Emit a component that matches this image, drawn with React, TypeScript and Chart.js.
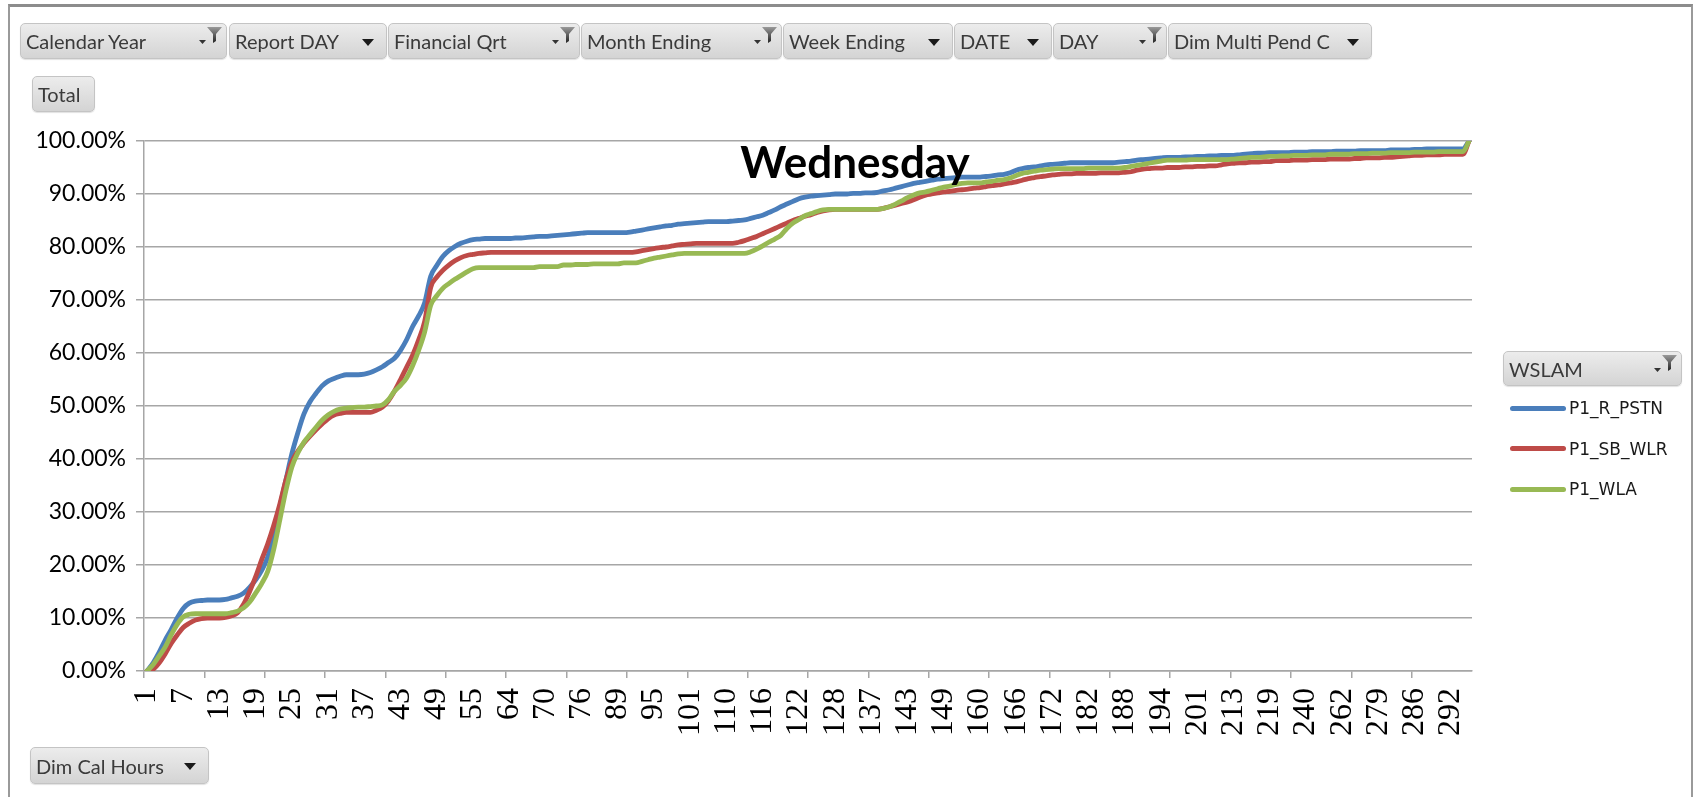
import React, { useEffect, useRef } from 'react';
import { Chart, registerables } from 'chart.js';

Chart.register(...registerables);

// ---------- data ----------
const hours = [
  1, 2, 3, 4, 5, 6, 7,
  8, 9, 10, 11, 12, 13,
  14, 15, 16, 17, 18, 19,
  20, 21, 22, 23, 24, 25,
  26, 27, 28, 29, 30, 31,
  32, 33, 34, 35, 36, 37,
  38, 39, 40, 41, 42, 43,
  44, 45, 46, 47, 48, 49,
  50, 51, 52, 53, 54, 55,
  56, 57, 59, 61, 62, 64,
  65, 66, 67, 68, 69, 70,
  71, 72, 73, 74, 75, 76,
  78, 80, 82, 84, 87, 89,
  90, 91, 92, 93, 94, 95,
  96, 97, 98, 99, 100, 101,
  102, 104, 105, 107, 108, 110,
  111, 112, 113, 114, 115, 116,
  117, 118, 119, 120, 121, 122,
  123, 124, 125, 126, 127, 128,
  129, 131, 132, 134, 135, 137,
  138, 139, 140, 141, 142, 143,
  144, 145, 146, 147, 148, 149,
  151, 153, 155, 157, 158, 160,
  161, 162, 163, 164, 165, 166,
  167, 168, 169, 170, 171, 172,
  173, 175, 177, 179, 180, 182,
  183, 184, 185, 186, 187, 188,
  189, 190, 191, 192, 193, 194,
  195, 196, 197, 199, 200, 201,
  203, 205, 207, 209, 211, 213,
  214, 215, 216, 217, 218, 219,
  222, 225, 229, 232, 236, 240,
  244, 248, 251, 255, 258, 262,
  265, 268, 271, 274, 277, 279,
  280, 281, 282, 284, 285, 286,
  287, 288, 289, 290, 291, 292,
  293, 295, 298,
];

const p1RPstn = [
  0, 1.5, 3.5, 5.8, 7.8, 10.0, 11.8, 12.8, 13.2, 13.3,
  13.4, 13.4, 13.4, 13.5, 13.8, 14.1, 14.7, 15.8, 17.2, 19.0,
  21.5, 26.0, 31.0, 36.0, 41.0, 45.0, 48.5, 50.8, 52.4, 53.8,
  54.7, 55.2, 55.6, 55.9, 55.9, 55.9, 56.0, 56.3, 56.8, 57.4,
  58.2, 59.0, 60.5, 62.5, 65.0, 67.0, 69.5, 74.5, 76.5, 78.2,
  79.3, 80.1, 80.7, 81.1, 81.4, 81.5, 81.6, 81.6, 81.6, 81.6,
  81.6, 81.7, 81.7, 81.8, 81.9, 82.0, 82.0, 82.1, 82.2, 82.3,
  82.4, 82.5, 82.6, 82.7, 82.7, 82.7, 82.7, 82.7, 82.7, 82.7,
  82.8, 83.0, 83.2, 83.4, 83.6, 83.8, 84.0, 84.1, 84.3, 84.4,
  84.5, 84.6, 84.7, 84.8, 84.8, 84.8, 84.8, 84.9, 85.0, 85.1,
  85.4, 85.7, 86.0, 86.5, 87.0, 87.6, 88.1, 88.6, 89.1, 89.4,
  89.6, 89.7, 89.8, 89.9, 90.0, 90.0, 90.0, 90.1, 90.1, 90.2,
  90.2, 90.3, 90.6, 90.8, 91.1, 91.4, 91.7, 92.0, 92.2, 92.4,
  92.6, 92.8, 92.9, 93.0, 93.1, 93.2, 93.2, 93.2, 93.2, 93.3,
  93.4, 93.6, 93.7, 94.0, 94.5, 94.8, 95.0, 95.1, 95.3, 95.5,
  95.6, 95.7, 95.8, 95.9, 95.9, 95.9, 95.9, 95.9, 95.9, 95.9,
  95.9, 96.0, 96.1, 96.2, 96.4, 96.5, 96.6, 96.7, 96.8, 96.9,
  96.9, 96.9, 97.0, 97.0, 97.1, 97.1, 97.2, 97.2, 97.3, 97.3,
  97.3, 97.4, 97.5, 97.6, 97.7, 97.7, 97.8, 97.8, 97.8, 97.8,
  97.9, 97.9, 97.9, 98.0, 98.0, 98.0, 98.0, 98.1, 98.1, 98.1,
  98.1, 98.2, 98.2, 98.2, 98.2, 98.2, 98.3, 98.3, 98.3, 98.3,
  98.4, 98.4, 98.5, 98.5, 98.5, 98.5, 98.5, 98.5, 98.5, 100,
];

const p1SbWlr = [
  0, 0.3, 1.5, 3.2, 5.2, 6.8, 8.2, 9.0, 9.6, 9.9,
  10.0, 10.0, 10.0, 10.1, 10.4, 11.0, 12.6, 15.0, 17.8, 21.0,
  24.0, 27.5, 31.5, 36.0, 39.5, 41.5, 43.0, 44.3, 45.5, 46.6,
  47.6, 48.3, 48.6, 48.8, 48.8, 48.8, 48.8, 48.8, 49.2, 49.8,
  51.0, 52.8, 55.0, 57.3, 59.6, 62.5, 66.0, 72.4, 74.3, 75.6,
  76.6, 77.4, 78.0, 78.4, 78.6, 78.8, 78.9, 79.0, 79.0, 79.0,
  79.0, 79.0, 79.0, 79.0, 79.0, 79.0, 79.0, 79.0, 79.0, 79.0,
  79.0, 79.0, 79.0, 79.0, 79.0, 79.0, 79.0, 79.0, 79.0, 79.0,
  79.0, 79.1, 79.3, 79.5, 79.7, 79.9, 80.0, 80.2, 80.4, 80.5,
  80.6, 80.7, 80.7, 80.7, 80.7, 80.7, 80.7, 80.7, 80.9, 81.2,
  81.6, 82.0, 82.5, 83.0, 83.5, 84.0, 84.5, 85.0, 85.4, 85.8,
  86.1, 86.5, 86.8, 87.0, 87.1, 87.1, 87.1, 87.1, 87.1, 87.1,
  87.1, 87.1, 87.3, 87.6, 87.9, 88.2, 88.5, 88.9, 89.4, 89.8,
  90.0, 90.2, 90.4, 90.5, 90.7, 90.8, 90.9, 91.1, 91.2, 91.4,
  91.6, 91.7, 91.9, 92.1, 92.3, 92.6, 92.9, 93.1, 93.3, 93.4,
  93.6, 93.7, 93.8, 93.8, 93.9, 93.9, 93.9, 93.9, 94.0, 94.0,
  94.0, 94.0, 94.1, 94.2, 94.5, 94.7, 94.8, 94.9, 94.9, 95.0,
  95.0, 95.0, 95.1, 95.1, 95.2, 95.2, 95.3, 95.3, 95.5, 95.7,
  95.8, 95.9, 95.9, 96.0, 96.0, 96.1, 96.1, 96.3, 96.3, 96.3,
  96.4, 96.4, 96.4, 96.5, 96.5, 96.5, 96.6, 96.6, 96.6, 96.6,
  96.7, 96.7, 96.8, 96.8, 96.8, 96.9, 96.9, 97.0, 97.1, 97.2,
  97.3, 97.3, 97.4, 97.4, 97.4, 97.5, 97.5, 97.5, 97.5, 100,
];

const p1Wla = [
  0, 1.2, 2.8, 4.5, 6.8, 8.8, 10.2, 10.7, 10.8, 10.8,
  10.8, 10.8, 10.8, 10.8, 11.0, 11.3, 11.9, 13.0, 14.7, 16.5,
  18.8, 23.0, 28.5, 34.0, 38.5, 41.2, 43.2, 44.6, 46.0, 47.3,
  48.3, 49.0, 49.4, 49.6, 49.7, 49.8, 49.8, 49.9, 50.0, 50.2,
  51.2, 52.8, 53.9, 55.3, 57.6, 60.5, 64.0, 69.0, 70.8, 72.2,
  73.1, 73.9, 74.6, 75.3, 75.9, 76.1, 76.1, 76.1, 76.1, 76.1,
  76.1, 76.1, 76.1, 76.1, 76.1, 76.3, 76.3, 76.3, 76.3, 76.6,
  76.6, 76.7, 76.7, 76.7, 76.8, 76.8, 76.8, 76.8, 76.8, 77.0,
  77.0, 77.0, 77.3, 77.6, 77.9, 78.1, 78.3, 78.5, 78.7, 78.8,
  78.8, 78.8, 78.8, 78.8, 78.8, 78.8, 78.8, 78.8, 78.8, 78.8,
  79.1, 79.6, 80.2, 80.9, 81.5, 82.2, 83.5, 84.5, 85.2, 85.9,
  86.3, 86.7, 87.0, 87.1, 87.1, 87.1, 87.1, 87.1, 87.1, 87.1,
  87.1, 87.1, 87.3, 87.6, 88.1, 88.7, 89.3, 89.8, 90.2, 90.4,
  90.7, 91.0, 91.3, 91.5, 91.8, 92.0, 92.1, 92.1, 92.1, 92.3,
  92.4, 92.6, 92.7, 93.0, 93.5, 93.9, 94.1, 94.3, 94.5, 94.6,
  94.7, 94.8, 94.8, 94.8, 94.8, 94.8, 94.9, 94.9, 94.9, 94.9,
  94.9, 94.9, 95.0, 95.2, 95.4, 95.6, 95.8, 96.0, 96.2, 96.4,
  96.4, 96.4, 96.4, 96.5, 96.5, 96.5, 96.5, 96.5, 96.5, 96.5,
  96.6, 96.7, 96.8, 96.9, 96.9, 97.0, 97.1, 97.1, 97.2, 97.2,
  97.3, 97.3, 97.3, 97.4, 97.4, 97.4, 97.5, 97.5, 97.5, 97.5,
  97.6, 97.6, 97.6, 97.7, 97.7, 97.7, 97.8, 97.8, 97.8, 97.8,
  97.9, 97.9, 97.9, 97.9, 98.0, 98.0, 98.0, 98.0, 98.0, 100,
];

const seriesNames = ['P1_R_PSTN', 'P1_SB_WLR', 'P1_WLA'];
const seriesColors = ['#4A7EBB', '#BE4B48', '#98B954'];
const chartTitle = 'Wednesday';
const legendTitle = 'WSLAM';
const rowFieldName = 'Dim Cal Hours';
const valueFieldName = 'Total';
const filterFields = ['Calendar Year', 'Report DAY', 'Financial Qrt', 'Month Ending', 'Week Ending', 'DATE', 'DAY', 'Dim Multi Pend C'];
const filterFieldHasFilter = [true, false, true, true, false, false, true, false];
const yMin = 0;
const yMax = 100;
const yStep = 10;
const xLabelEvery = 6;
const xTickEvery = 10;

// ---------- layout (styles only) ----------
const filterX = [20, 229, 388, 581, 783, 954, 1053, 1168];
const filterW = [207, 158, 192, 201, 170, 98, 114, 204];

const UI_FONT = 'Lato, "Open Sans", sans-serif';

function ArrowIcon() {
  return (
    <svg width="12" height="8" style={{ position: 'absolute', right: 12, top: 15 }}>
      <polygon points="0,0 12,0 6,7" fill="#1a1a1a" />
    </svg>
  );
}

function FilterIcon() {
  return (
    <svg width="24" height="22" style={{ position: 'absolute', right: 3, top: 2 }}>
      <defs>
        <linearGradient id="fg" x1="0" y1="0" x2="0" y2="1">
          <stop offset="0" stopColor="#9a9a9a" />
          <stop offset="1" stopColor="#222" />
        </linearGradient>
      </defs>
      <polygon points="0,14 7,14 3.5,18" fill="#333" />
      <polygon points="8,1 23,1 17,8 17,15 14,17 14,8" fill="url(#fg)" />
    </svg>
  );
}

function FieldButton(props: { label: string; x: number; y: number; w: number; h: number; icon: 'filter' | 'arrow' | 'none' }) {
  const { label, x, y, w, h, icon } = props;
  return (
    <div
      style={{
        position: 'absolute',
        left: x,
        top: y,
        width: w,
        height: h,
        boxSizing: 'border-box',
        border: '1px solid #c4c4c4',
        borderRadius: 5,
        background: 'linear-gradient(#ececec, #d4d4d4)',
        boxShadow: '0 1px 1px rgba(0,0,0,0.12)',
        fontFamily: UI_FONT,
        fontSize: 20,
        color: '#3a3a3a',
        display: 'flex',
        alignItems: 'center',
        paddingLeft: 5,
        whiteSpace: 'nowrap',
        overflow: 'hidden',
        zIndex: 2,
      }}
    >
      {label}
      {icon === 'arrow' && <ArrowIcon />}
      {icon === 'filter' && <FilterIcon />}
    </div>
  );
}

export default function App() {
  const canvasRef = useRef<HTMLCanvasElement | null>(null);

  useEffect(() => {
    const canvas = canvasRef.current;
    if (!canvas) return;
    const gridColor = '#a6a6a6';
    const chart = new Chart(canvas, {
      type: 'line',
      data: {
        labels: hours.map(String),
        datasets: [
          { label: seriesNames[0], data: p1RPstn, borderColor: seriesColors[0], backgroundColor: seriesColors[0], order: 2 },
          { label: seriesNames[1], data: p1SbWlr, borderColor: seriesColors[1], backgroundColor: seriesColors[1], order: 1 },
          { label: seriesNames[2], data: p1Wla, borderColor: seriesColors[2], backgroundColor: seriesColors[2], order: 0 },
        ].map((d) => ({
          ...d,
          borderWidth: 4.8,
          pointRadius: 0,
          pointHoverRadius: 0,
          fill: false,
          cubicInterpolationMode: 'monotone' as const,
          borderJoinStyle: 'round' as const,
          borderCapStyle: 'round' as const,
        })),
      },
      options: {
        responsive: false,
        animation: false,
        events: [],
        layout: { padding: { left: 0, top: 141, right: 228, bottom: 26 } },
        plugins: {
          legend: { display: false },
          title: { display: false },
          tooltip: { enabled: false },
        },
        scales: {
          x: {
            type: 'category',
            offset: true,
            grid: {
              display: true,
              drawOnChartArea: false,
              drawTicks: true,
              tickLength: 7,
              offset: true,
              lineWidth: 1.5,
              color: (ctx: any) => (ctx.index % xTickEvery === 0 ? gridColor : 'rgba(0,0,0,0)'),
            },
            border: { display: true, color: gridColor, width: 1.5 },
            ticks: {
              autoSkip: false,
              minRotation: 90,
              maxRotation: 90,
              padding: 10,
              color: '#000',
              font: { family: 'Liberation Serif', size: 32 },
              callback: (_v: any, i: number) => (i % xLabelEvery === 0 ? String(hours[i]) : ''),
            },
            afterFit: (s: any) => {
              s.height = 100;
            },
          },
          y: {
            min: yMin,
            max: yMax,
            ticks: {
              stepSize: yStep,
              padding: 10,
              color: '#000',
              font: { family: UI_FONT, size: 23 },
              callback: (v: any) => Number(v).toFixed(2) + '%',
            },
            grid: { color: gridColor, lineWidth: 1.5, tickLength: 8 },
            border: { display: true, color: gridColor, width: 1.5 },
            afterFit: (s: any) => {
              s.width = 144;
            },
          },
        },
      },
    });
    return () => chart.destroy();
  }, []);

  return (
    <div
      style={{
        position: 'absolute',
        left: 0,
        top: 0,
        width: 1700,
        height: 797,
        background: '#fff',
        overflow: 'hidden',
      }}
    >
      {/* outer frame */}
      <div
        style={{
          position: 'absolute',
          left: 8,
          top: 4,
          width: 1685,
          height: 840,
          boxSizing: 'border-box',
          borderTop: '3px solid #8c8c8c',
          borderLeft: '2px solid #9a9a9a',
          borderRight: '2px solid #9a9a9a',
        }}
      />
      <canvas
        ref={canvasRef}
        width={1700}
        height={797}
        style={{ position: 'absolute', left: 0, top: 0, width: 1700, height: 797, zIndex: 1 }}
      />
      {filterFields.map((f, i) => (
        <FieldButton key={f} label={f} x={filterX[i]} y={23} w={filterW[i]} h={36} icon={filterFieldHasFilter[i] ? 'filter' : 'arrow'} />
      ))}
      <FieldButton label={valueFieldName} x={32} y={76} w={63} h={36} icon="none" />
      <FieldButton label={rowFieldName} x={30} y={747} w={179} h={37} icon="arrow" />
      <div
        style={{
          position: 'absolute',
          left: 855,
          top: 139,
          transform: 'translateX(-50%)',
          fontFamily: UI_FONT,
          fontWeight: 700,
          fontSize: 44,
          lineHeight: '44px',
          color: '#000',
          whiteSpace: 'nowrap',
          zIndex: 3,
        }}
      >
        {chartTitle}
      </div>
      {/* legend */}
      <FieldButton label={legendTitle} x={1503} y={351} w={179} h={35} icon="filter" />
      {seriesNames.map((n, i) => (
        <div
          key={n}
          style={{
            position: 'absolute',
            left: 1510,
            top: 408 + i * 40.5 - 12,
            height: 24,
            display: 'flex',
            alignItems: 'center',
            zIndex: 2,
          }}
        >
          <div style={{ width: 56, height: 5, borderRadius: 3, background: seriesColors[i], marginRight: 3 }} />
          <span style={{ fontFamily: '"DejaVu Sans", sans-serif', fontSize: 17, color: '#1a1a1a' }}>{n}</span>
        </div>
      ))}
    </div>
  );
}
